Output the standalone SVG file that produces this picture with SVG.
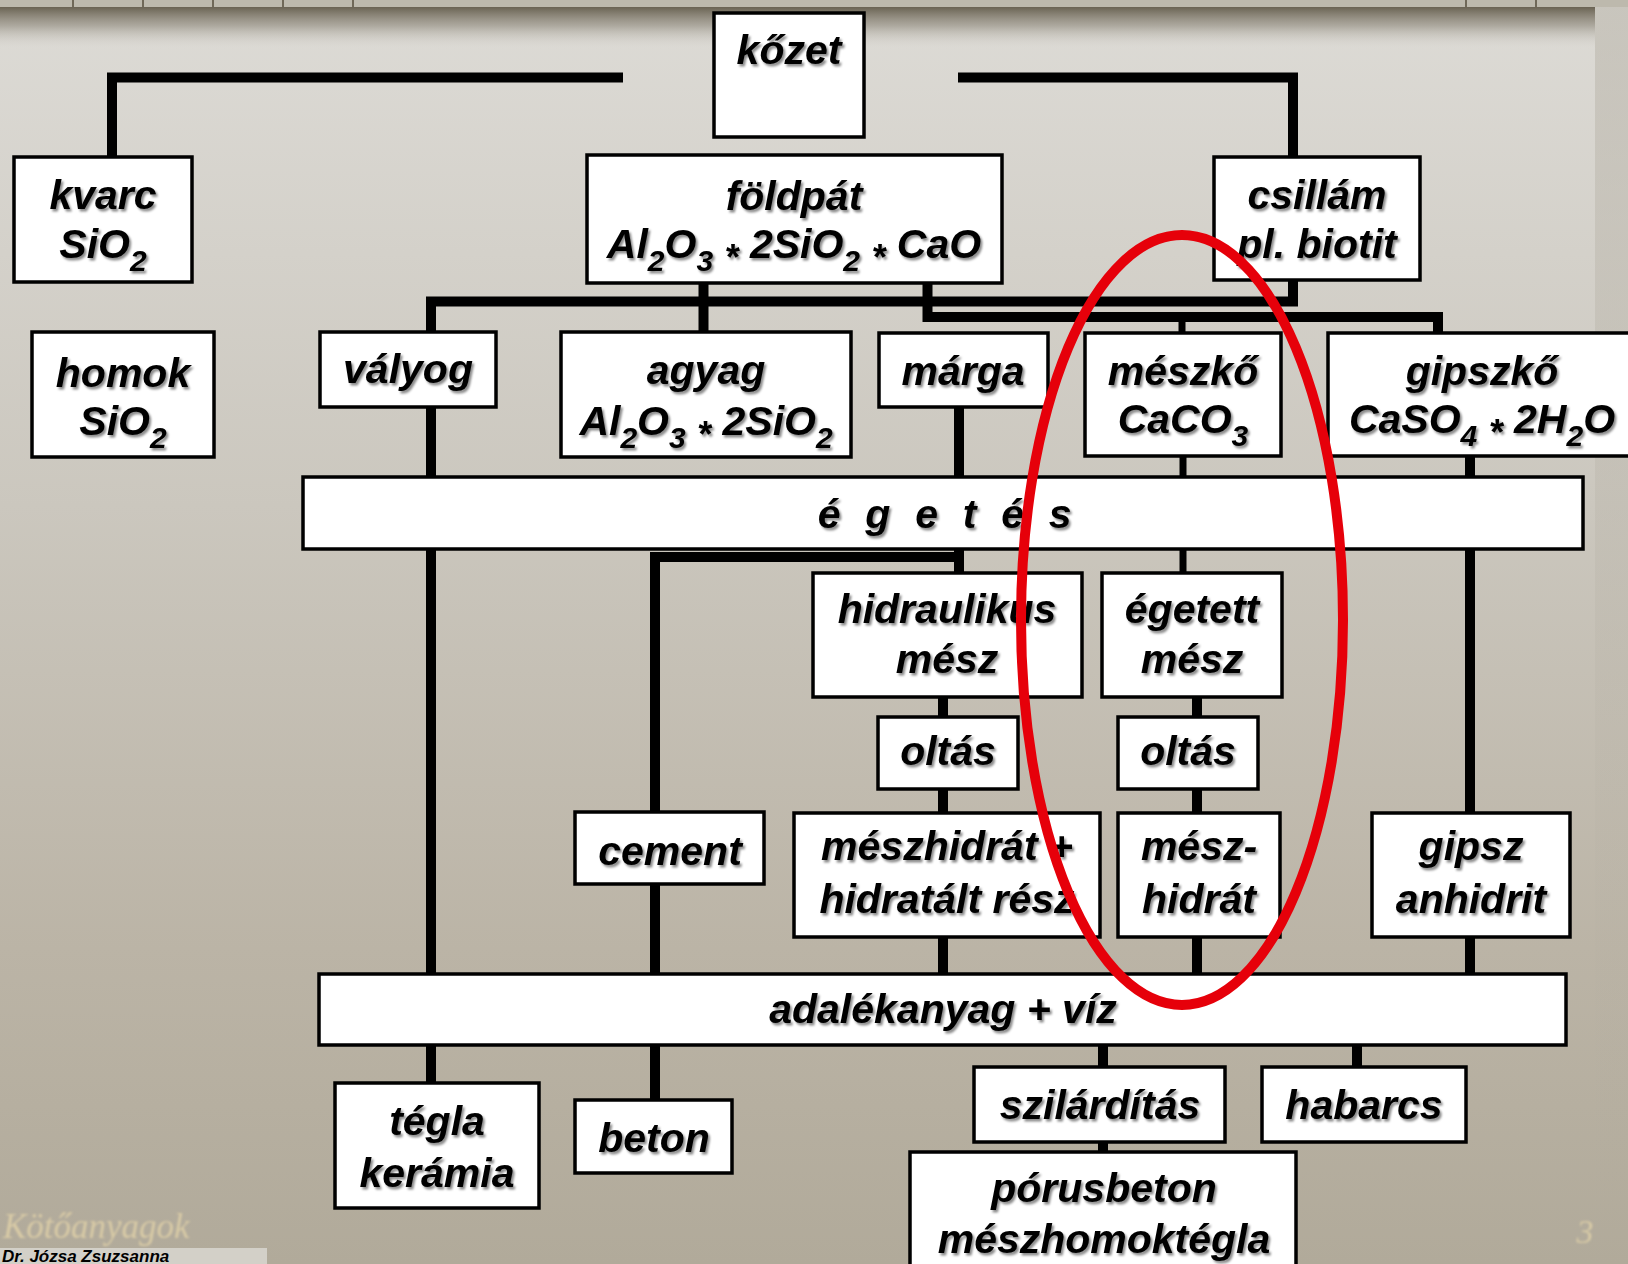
<svg xmlns="http://www.w3.org/2000/svg" width="1628" height="1264" viewBox="0 0 1628 1264">
  <defs>
    <linearGradient id="bg" x1="0" y1="0" x2="0" y2="1">
      <stop offset="0" stop-color="#dddbd6"/>
      <stop offset="0.4" stop-color="#cbc7be"/>
      <stop offset="0.75" stop-color="#bbb4a6"/>
      <stop offset="1" stop-color="#b1aa9a"/>
    </linearGradient>
    <linearGradient id="topsh" x1="0" y1="0" x2="0" y2="1">
      <stop offset="0" stop-color="#6a6353" stop-opacity="1"/>
      <stop offset="0.45" stop-color="#8e887b" stop-opacity="0.6"/>
      <stop offset="1" stop-color="#d9d7d1" stop-opacity="0"/>
    </linearGradient>
    <linearGradient id="rightsh" x1="0" y1="0" x2="0" y2="1">
      <stop offset="0" stop-color="#b0ab9f" stop-opacity="0.45"/>
      <stop offset="0.6" stop-color="#b0ab9f" stop-opacity="0.15"/>
      <stop offset="1" stop-color="#b0ab9f" stop-opacity="0"/>
    </linearGradient>
    <filter id="sh" x="-10%" y="-30%" width="120%" height="160%">
      <feDropShadow dx="2" dy="2.5" stdDeviation="1.3" flood-color="#000" flood-opacity="0.45"/>
    </filter>
    <filter id="glow" x="-10%" y="-30%" width="120%" height="160%">
      <feGaussianBlur stdDeviation="0.8"/>
    </filter>
    <style>
      .box { fill: #ffffff; stroke: #000000; stroke-width: 3.5; }
      .t { font-family: "Liberation Sans", Arial, sans-serif; font-weight: bold; font-style: italic; font-size: 41px; text-anchor: middle; fill: #000000; filter: url(#sh); }
      .sub { font-size: 30px; }
      .ast { font-size: 36px; }
      .c { fill: none; stroke: #000000; stroke-width: 10; stroke-linejoin: miter; stroke-linecap: butt; }
      .c7 { fill: none; stroke: #000000; stroke-width: 7; stroke-linecap: butt; }
      .foot { font-family: "Liberation Serif", "Times New Roman", serif; font-style: italic; fill: #d8caa6; filter: url(#glow); }
    </style>
  </defs>

  <!-- background -->
  <rect x="0" y="0" width="1628" height="1264" fill="url(#bg)"/>
  <rect x="0" y="7" width="1595" height="42" fill="url(#topsh)"/>
  <rect x="1595" y="0" width="33" height="1264" fill="url(#rightsh)"/>
  <rect x="0" y="0" width="1628" height="7" fill="#bdb9ad"/>
  <g stroke="#6f6858" stroke-width="2">
    <line x1="73" y1="0" x2="73" y2="7"/>
    <line x1="143" y1="0" x2="143" y2="7"/>
    <line x1="213" y1="0" x2="213" y2="7"/>
    <line x1="283" y1="0" x2="283" y2="7"/>
    <line x1="353" y1="0" x2="353" y2="7"/>
    <line x1="1466" y1="0" x2="1466" y2="7"/>
    <line x1="1536" y1="0" x2="1536" y2="7"/>
  </g>

  <!-- connectors -->
  <g id="connectors">
    <path class="c" d="M623,77.5 H112 V157"/>
    <path class="c" d="M958,77.5 H1293 V157"/>
    <path class="c" d="M1293,280 V301.5 H431 V332"/>
    <path class="c" d="M703.5,283 V332"/>
    <path class="c" d="M927.5,283 V317 H1438 V333"/>
    <path class="c7" d="M1182,317 V333"/>
    <path class="c" d="M431,407 V1083"/>
    <path class="c" d="M959,407 V573"/>
    <path class="c" d="M959,557 H655 V812"/>
    <path class="c" d="M655,884 V1100"/>
    <path class="c7" d="M1183,456 V573"/>
    <path class="c" d="M1470,456 V813"/>
    <path class="c" d="M1470,937 V974"/>
    <path class="c" d="M943,697 V813"/>
    <path class="c" d="M943,937 V974"/>
    <path class="c" d="M1197,697 V813"/>
    <path class="c" d="M1197,937 V974"/>
    <path class="c" d="M1103,1045 V1152"/>
    <path class="c" d="M1357,1045 V1067"/>
  </g>

  <!-- nodes -->
  <g id="kozet">
    <rect class="box" x="714" y="13" width="150" height="124"/>
    <text class="t" x="789" y="64">kőzet</text>
  </g>
  <g id="kvarc">
    <rect class="box" x="14" y="157" width="178" height="125"/>
    <text class="t" x="103" y="209">kvarc</text>
    <text class="t" x="103" y="258">SiO<tspan class="sub" dy="13">2</tspan></text>
  </g>
  <g id="foldpat">
    <rect class="box" x="587" y="155" width="415" height="128"/>
    <text class="t" x="794" y="210">földpát</text>
    <text class="t" x="794" y="258">Al<tspan class="sub" dy="13">2</tspan><tspan dy="-13">O</tspan><tspan class="sub" dy="13">3</tspan><tspan dy="-1"> </tspan><tspan class="ast">*</tspan><tspan dy="-12"> 2SiO</tspan><tspan class="sub" dy="13">2</tspan><tspan dy="-1"> </tspan><tspan class="ast">*</tspan><tspan dy="-12"> CaO</tspan></text>
  </g>
  <g id="csillam">
    <rect class="box" x="1214" y="157" width="206" height="123"/>
    <text class="t" x="1317" y="209">csillám</text>
    <text class="t" x="1317" y="258">pl. biotit</text>
  </g>
  <g id="homok">
    <rect class="box" x="32" y="332" width="182" height="125"/>
    <text class="t" x="123" y="387">homok</text>
    <text class="t" x="123" y="435">SiO<tspan class="sub" dy="13">2</tspan></text>
  </g>
  <g id="valyog">
    <rect class="box" x="320" y="332" width="176" height="75"/>
    <text class="t" x="408" y="383">vályog</text>
  </g>
  <g id="agyag">
    <rect class="box" x="561" y="332" width="290" height="125"/>
    <text class="t" x="706" y="384">agyag</text>
    <text class="t" x="706" y="435">Al<tspan class="sub" dy="13">2</tspan><tspan dy="-13">O</tspan><tspan class="sub" dy="13">3</tspan><tspan dy="-1"> </tspan><tspan class="ast">*</tspan><tspan dy="-12"> 2SiO</tspan><tspan class="sub" dy="13">2</tspan></text>
  </g>
  <g id="marga">
    <rect class="box" x="879" y="333" width="169" height="74"/>
    <text class="t" x="963" y="385">márga</text>
  </g>
  <g id="meszko">
    <rect class="box" x="1085" y="333" width="196" height="123"/>
    <text class="t" x="1183" y="385">mészkő</text>
    <text class="t" x="1183" y="433">CaCO<tspan class="sub" dy="13">3</tspan></text>
  </g>
  <g id="gipszko">
    <rect class="box" x="1328" y="333" width="312" height="123"/>
    <text class="t" x="1482" y="385">gipszkő</text>
    <text class="t" x="1482" y="433">CaSO<tspan class="sub" dy="13">4</tspan><tspan dy="-1"> </tspan><tspan class="ast">*</tspan><tspan dy="-12"> 2H</tspan><tspan class="sub" dy="13">2</tspan><tspan dy="-13">O</tspan></text>
  </g>
  <g id="egetes">
    <rect class="box" x="303" y="477" width="1280" height="72"/>
    <text class="t" x="948" y="528" style="letter-spacing:6.7px">é g e t é s</text>
  </g>
  <g id="hidraulikus_mesz">
    <rect class="box" x="813" y="573" width="269" height="124"/>
    <text class="t" x="947" y="623">hidraulikus</text>
    <text class="t" x="947" y="673">mész</text>
  </g>
  <g id="egetett_mesz">
    <rect class="box" x="1102" y="573" width="180" height="124"/>
    <text class="t" x="1192" y="623">égetett</text>
    <text class="t" x="1192" y="673">mész</text>
  </g>
  <g id="oltas1">
    <rect class="box" x="878" y="717" width="140" height="72"/>
    <text class="t" x="948" y="765">oltás</text>
  </g>
  <g id="oltas2">
    <rect class="box" x="1118" y="717" width="140" height="72"/>
    <text class="t" x="1188" y="765">oltás</text>
  </g>
  <g id="cement">
    <rect class="box" x="575" y="812" width="189" height="72"/>
    <text class="t" x="670" y="865">cement</text>
  </g>
  <g id="meszhidrat_resz">
    <rect class="box" x="794" y="813" width="306" height="124"/>
    <text class="t" x="947" y="860">mészhidrát +</text>
    <text class="t" x="947" y="913">hidratált rész</text>
  </g>
  <g id="meszhidrat">
    <rect class="box" x="1118" y="813" width="162" height="124"/>
    <text class="t" x="1199" y="860">mész-</text>
    <text class="t" x="1199" y="913">hidrát</text>
  </g>
  <g id="gipsz">
    <rect class="box" x="1372" y="813" width="198" height="124"/>
    <text class="t" x="1471" y="860">gipsz</text>
    <text class="t" x="1471" y="913">anhidrit</text>
  </g>
  <g id="adalek">
    <rect class="box" x="319" y="974" width="1247" height="71"/>
    <text class="t" x="943" y="1023">adalékanyag + víz</text>
  </g>
  <g id="tegla">
    <rect class="box" x="335" y="1083" width="204" height="125"/>
    <text class="t" x="437" y="1135">tégla</text>
    <text class="t" x="437" y="1187">kerámia</text>
  </g>
  <g id="beton">
    <rect class="box" x="575" y="1100" width="157" height="73"/>
    <text class="t" x="654" y="1152">beton</text>
  </g>
  <g id="szilarditas">
    <rect class="box" x="974" y="1067" width="251" height="75"/>
    <text class="t" x="1100" y="1119">szilárdítás</text>
  </g>
  <g id="habarcs">
    <rect class="box" x="1262" y="1067" width="204" height="75"/>
    <text class="t" x="1364" y="1119">habarcs</text>
  </g>
  <g id="porusbeton">
    <rect class="box" x="910" y="1152" width="386" height="130"/>
    <text class="t" x="1104" y="1202">pórusbeton</text>
    <text class="t" x="1104" y="1253">mészhomoktégla</text>
  </g>

  <!-- red highlight -->
  <ellipse cx="1182" cy="620" rx="161" ry="385" fill="none" stroke="#e6000a" stroke-width="10"/>

  <!-- footer -->
  <text class="foot" x="3" y="1238" font-size="35">Kötőanyagok</text>
  <text class="foot" x="1585" y="1243" font-size="34" text-anchor="middle">3</text>
  <rect x="0" y="1248" width="267" height="16" fill="#d3d0c8"/>
  <text x="2" y="1262" font-family="Liberation Sans, Arial, sans-serif" font-weight="bold" font-style="italic" font-size="17" fill="#000">Dr. Józsa Zsuzsanna</text>
</svg>
